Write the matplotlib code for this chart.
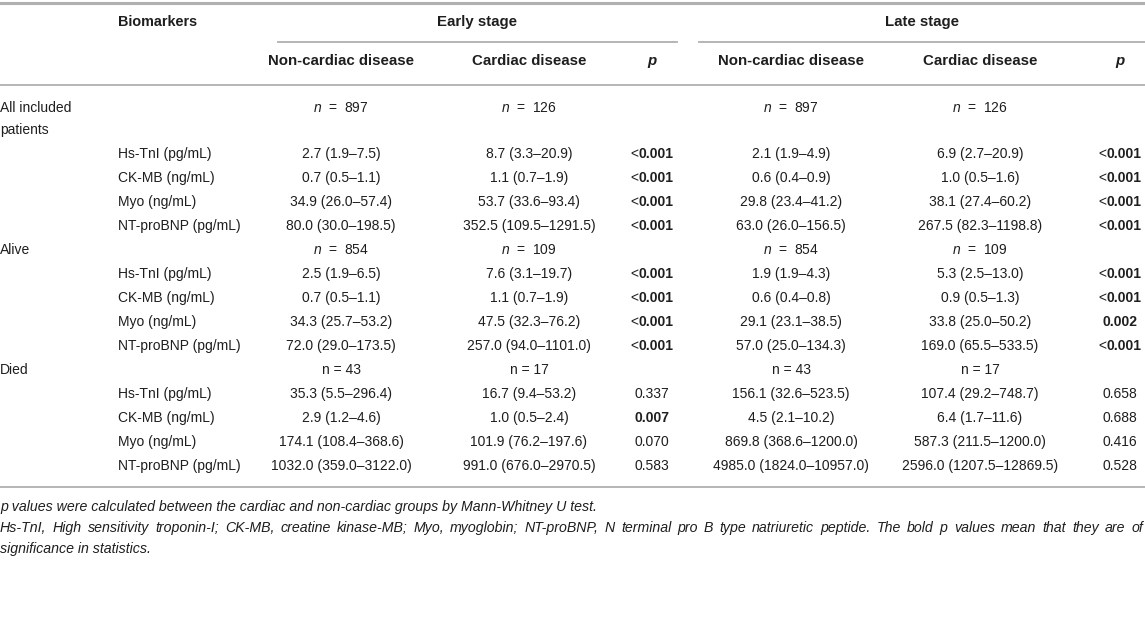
import matplotlib
matplotlib.use("Agg")
import matplotlib.pyplot as plt

plt.rcParams['font.family'] = ['Liberation Sans', 'DejaVu Sans']
plt.rcParams['mathtext.fontset'] = 'custom'
plt.rcParams['mathtext.it'] = 'Liberation Sans:italic'
plt.rcParams['mathtext.rm'] = 'Liberation Sans'
plt.rcParams['mathtext.bf'] = 'Liberation Sans:bold'

# table data
groups = ["All included\npatients", "Alive", "Died"]
n_non = [897, 854, 43]
n_card = [126, 109, 17]
n_italic = [True, True, False]
markers = ["Hs-TnI (pg/mL)", "CK-MB (ng/mL)", "Myo (ng/mL)", "NT-proBNP (pg/mL)"]

early_non = ["2.7 (1.9–7.5)", "0.7 (0.5–1.1)", "34.9 (26.0–57.4)", "80.0 (30.0–198.5)",
             "2.5 (1.9–6.5)", "0.7 (0.5–1.1)", "34.3 (25.7–53.2)", "72.0 (29.0–173.5)",
             "35.3 (5.5–296.4)", "2.9 (1.2–4.6)", "174.1 (108.4–368.6)", "1032.0 (359.0–3122.0)"]
early_card = ["8.7 (3.3–20.9)", "1.1 (0.7–1.9)", "53.7 (33.6–93.4)", "352.5 (109.5–1291.5)",
              "7.6 (3.1–19.7)", "1.1 (0.7–1.9)", "47.5 (32.3–76.2)", "257.0 (94.0–1101.0)",
              "16.7 (9.4–53.2)", "1.0 (0.5–2.4)", "101.9 (76.2–197.6)", "991.0 (676.0–2970.5)"]
early_p = ["<0.001", "<0.001", "<0.001", "<0.001",
           "<0.001", "<0.001", "<0.001", "<0.001",
           "0.337", "0.007", "0.070", "0.583"]
late_non = ["2.1 (1.9–4.9)", "0.6 (0.4–0.9)", "29.8 (23.4–41.2)", "63.0 (26.0–156.5)",
            "1.9 (1.9–4.3)", "0.6 (0.4–0.8)", "29.1 (23.1–38.5)", "57.0 (25.0–134.3)",
            "156.1 (32.6–523.5)", "4.5 (2.1–10.2)", "869.8 (368.6–1200.0)", "4985.0 (1824.0–10957.0)"]
late_card = ["6.9 (2.7–20.9)", "1.0 (0.5–1.6)", "38.1 (27.4–60.2)", "267.5 (82.3–1198.8)",
             "5.3 (2.5–13.0)", "0.9 (0.5–1.3)", "33.8 (25.0–50.2)", "169.0 (65.5–533.5)",
             "107.4 (29.2–748.7)", "6.4 (1.7–11.6)", "587.3 (211.5–1200.0)", "2596.0 (1207.5–12869.5)"]
late_p = ["<0.001", "<0.001", "<0.001", "<0.001",
          "<0.001", "<0.001", "0.002", "<0.001",
          "0.658", "0.688", "0.416", "0.528"]

footnotes = [
    "p values were calculated between the cardiac and non-cardiac groups by Mann-Whitney U test.",
    "Hs-TnI, High sensitivity troponin-I; CK-MB, creatine kinase-MB; Myo, myoglobin; NT-proBNP, N terminal pro B type natriuretic peptide. The bold p values mean that they are of",
    "significance in statistics.",
]
footnote_justify = [False, True, False]

W, H = 1145, 619
fig = plt.figure(figsize=(W / 100, H / 100), dpi=100)
ax = fig.add_axes([0, 0, 1, 1])
ax.set_xlim(0, W)
ax.set_ylim(H, 0)
ax.axis("off")
renderer = fig.canvas.get_renderer()

txt = "#1e1e1e"
rule = "#b0b0b0"
fs = 10
hfs = 10.8


def px_width(t):
    bb = t.get_window_extent(renderer=renderer)
    return bb.width


# column centres
x_group = 0
x_marker = 118
x_cols = [341, 529, 652, 791, 980, 1120]

# header
ax.plot([0, W], [3, 3], color=rule, lw=2.2)
ax.text(x_marker, 22, "Biomarkers", fontsize=10.4, fontweight="bold", color=txt, va="center")
ax.text(477, 22, "Early stage", fontsize=hfs, fontweight="bold", color=txt, va="center", ha="center")
ax.text(922, 22, "Late stage", fontsize=hfs, fontweight="bold", color=txt, va="center", ha="center")
ax.plot([278, 677], [42, 42], color=rule, lw=1.3)
ax.plot([699, W], [42, 42], color=rule, lw=1.3)
sub = ["Non-cardiac disease", "Cardiac disease", "p", "Non-cardiac disease", "Cardiac disease", "p"]
for x, s in zip(x_cols, sub):
    ax.text(x, 61, s, fontsize=hfs, fontweight="bold", color=txt, va="center", ha="center",
            style="italic" if s == "p" else "normal")
ax.plot([0, W], [85, 85], color=rule, lw=1.3)


def p_text(x, y, v):
    if v.startswith("<"):
        t = ax.text(x + 4, y, v[1:], fontsize=fs, fontweight="bold", color=txt, va="center", ha="center")
        w = px_width(t)
        ax.text(x + 4 - w / 2 - 0.5, y, "<", fontsize=fs, color=txt, va="center", ha="right")
    else:
        bold = float(v) < 0.05
        ax.text(x, y, v, fontsize=fs, color=txt, va="center", ha="center",
                fontweight="bold" if bold else "normal")


# body
y = 108
cols = [early_non, early_card, early_p, late_non, late_card, late_p]
for g in range(len(groups)):
    for k, line in enumerate(groups[g].split("\n")):
        ax.text(x_group, y + k * 22, line, fontsize=fs, color=txt, va="center")
    for x, n in ((x_cols[0], n_non[g]), (x_cols[3], n_non[g]), (x_cols[1], n_card[g]), (x_cols[4], n_card[g])):
        s = r"$n$  =  %d" % n if n_italic[g] else "n = %d" % n
        ax.text(x, y, s, fontsize=fs, color=txt, va="center", ha="center")
    y += 46 if g == 0 else 24
    for m in range(len(markers)):
        i = g * 4 + m
        ax.text(x_marker, y, markers[m], fontsize=fs, color=txt, va="center")
        for c, col in enumerate(cols):
            if c in (2, 5):
                p_text(x_cols[c], y, col[i])
            else:
                ax.text(x_cols[c], y, col[i], fontsize=fs, color=txt, va="center", ha="center")
        y += 24

ax.plot([0, W], [487, 487], color=rule, lw=1.3)

# footnotes (second line justified to the table width)
ffs = 10.2
for k, s in enumerate(footnotes):
    yy = 507 + k * 21
    if not footnote_justify[k]:
        ax.text(0, yy, s, fontsize=ffs, style="italic", color=txt, va="center")
        continue
    words = s.split(" ")
    items = [ax.text(0, yy, wd, fontsize=ffs, style="italic", color=txt, va="center") for wd in words]
    widths = [px_width(t) for t in items]
    gap = (W - 2 - sum(widths)) / (len(words) - 1)
    xx = 0
    for t, wdt in zip(items, widths):
        t.set_x(xx)
        xx += wdt + gap

fig.savefig("out.png", dpi=100)
